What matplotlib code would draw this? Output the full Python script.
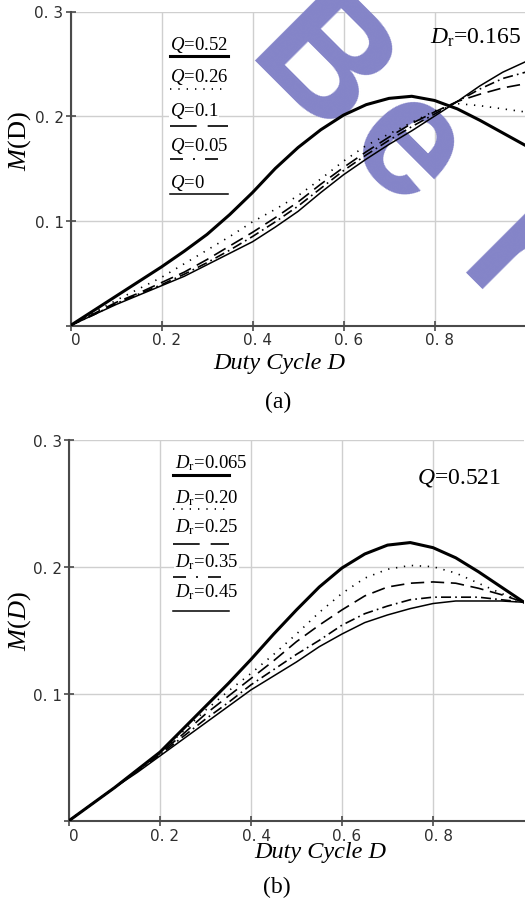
#!/usr/bin/env python3
'''
Voltage gain M(D) vs duty cycle, two panels:
(a) several Q at Dr=0.165, (b) several Dr at Q=0.521
'''

import matplotlib as mplt
mplt.use("Agg")
import matplotlib.pyplot as plt
import matplotlib.transforms as mtransforms

plt.rcParams["mathtext.fontset"] = "custom"
plt.rcParams["mathtext.rm"] = "Liberation Serif"
plt.rcParams["mathtext.it"] = "Liberation Serif:italic"

SERIF = "Liberation Serif"

# ---- data ----
duty = [0.0, 0.05, 0.1, 0.15, 0.2, 0.25, 0.3, 0.35, 0.4, 0.45, 0.5,
        0.55, 0.6, 0.65, 0.7, 0.75, 0.8, 0.85, 0.9, 0.95, 1.0]

# panel (a): Dr = 0.165
m_q052 = [0, .014, .028, .042, .056, .071, .087, .106, .127, .150, .170,
          .187, .201, .211, .217, .219, .215, .207, .196, .184, .172]
m_q026 = [0, .012, .024, .035, .046, .059, .072, .085, .099, .111, .124,
          .140, .157, .172, .183, .194, .205, .212, .210, .207, .204]
m_q01 = [0, .011, .022, .031, .041, .051, .063, .076, .089, .103, .118,
         .135, .151, .166, .180, .193, .204, .214, .221, .227, .231]
m_q005 = [0, .010, .021, .030, .039, .049, .060, .072, .085, .099, .114,
          .131, .148, .163, .177, .190, .202, .214, .226, .236, .242]
m_q0 = [0, .010, .020, .029, .038, .047, .058, .069, .080, .094, .109,
        .127, .144, .159, .173, .186, .200, .214, .229, .242, .252]

labels_a = [r"$Q$=0.52", r"$Q$=0.26", r"$Q$=0.1", r"$Q$=0.05", r"$Q$=0"]

# panel (b): Q = 0.521
m_dr0065 = [0, .013, .026, .040, .054, .072, .090, .108, .127, .147, .166,
            .184, .199, .210, .217, .219, .215, .207, .196, .184, .172]
m_dr020 = [0, .013, .026, .040, .054, .070, .087, .102, .116, .131, .147,
           .164, .179, .191, .198, .201, .200, .195, .187, .179, .172]
m_dr025 = [0, .013, .026, .040, .053, .068, .084, .098, .112, .126, .141,
           .154, .166, .177, .184, .187, .188, .187, .183, .178, .172]
m_dr035 = [0, .013, .026, .039, .052, .066, .080, .093, .107, .119, .131,
           .142, .154, .163, .169, .174, .176, .176, .176, .174, .172]
m_dr045 = [0, .013, .026, .038, .051, .064, .077, .090, .103, .114, .125,
           .137, .147, .156, .162, .167, .171, .173, .173, .173, .172]

labels_b = [r"$D_\mathrm{r}$=0.065", r"$D_\mathrm{r}$=0.20", r"$D_\mathrm{r}$=0.25",
            r"$D_\mathrm{r}$=0.35", r"$D_\mathrm{r}$=0.45"]

xticks = [0, 0.2, 0.4, 0.6, 0.8]
xtick_labels = ["0", "0. 2", "0. 4", "0. 6", "0. 8"]
yticks = [0, 0.1, 0.2, 0.3]
ytick_labels = ["", "0. 1", "0. 2", "0. 3"]

# line styles, same order for both panels
styles = [
    dict(lw=2.2, ls="-"),
    dict(lw=1.2, ls=(0, (0.8, 4.0))),
    dict(lw=1.2, ls=(0, (8, 4))),
    dict(lw=1.2, ls=(0, (6, 2.5, 1, 2.5))),
    dict(lw=1.1, ls="-"),
]
# the short key lines next to the labels use longer dashes
key_styles = [
    dict(lw=2.2, ls="-"),
    dict(lw=1.2, ls=(0, (0.8, 4.2))),
    dict(lw=1.2, ls=(0, (16, 6.6))),
    dict(lw=1.2, ls=(0, (7.8, 6, 1.2, 6))),
    dict(lw=1.1, ls="-"),
]

W, H = 525, 903
fig = plt.figure(figsize=(W / 100, H / 100), dpi=100)


def px_axes(left, bottom, right, top):
    # pixel box (origin top-left) -> figure fraction
    return [left / W, 1 - bottom / H, (right - left) / W, (bottom - top) / H]


def style_axes(ax):
    ax.set_xlim(0, 1)
    ax.set_ylim(0, 0.3)
    ax.set_xticks(xticks)
    ax.set_xticklabels(xtick_labels)
    ax.set_yticks(yticks)
    ax.set_yticklabels(ytick_labels)
    for side in ["top", "right"]:
        ax.spines[side].set_visible(False)
    for side in ["left", "bottom"]:
        ax.spines[side].set_color("#4a4a4a")
        ax.spines[side].set_linewidth(1.5)
    ax.tick_params(direction="inout", length=7, width=1.2, color="#4a4a4a",
                   labelsize=11, labelcolor="#2e2e2e", pad=1.5)
    ax.grid(True, color="#cfcfcf", lw=1.0)
    ax.set_axisbelow(True)
    shift = mtransforms.ScaledTranslation(5 / 100, 0, fig.dpi_scale_trans)
    for lab in ax.get_xticklabels():
        lab.set_transform(lab.get_transform() + shift)
        lab.set_family("DejaVu Sans")
    for lab in ax.get_yticklabels():
        lab.set_family("DejaVu Sans")


def legend_block(ax, labels, x_text, y_text, x_line, y_line):
    for i, lab in enumerate(labels):
        ax.text(x_text, y_text[i], lab, transform=ax.transAxes, family=SERIF,
                fontsize=13.5, ha="left", va="center", zorder=4,
                bbox=dict(fc="white", ec="none", pad=0.5))
        ax.plot(x_line, [y_line[i], y_line[i]], transform=ax.transAxes,
                color="k", zorder=4, clip_on=False, **key_styles[i])


# ---- panel (a) ----
ax_a = fig.add_axes(px_axes(70.5, 326.5, 525.5, 12.5))
style_axes(ax_a)
for m, st in zip([m_q052, m_q026, m_q01, m_q005, m_q0], styles):
    ax_a.plot(duty, m, color="k", zorder=3, **st)

legend_block(ax_a, labels_a, 0.219,
             [0.897, 0.795, 0.686, 0.575, 0.457], [0.219, 0.346],
             [0.858, 0.753, 0.636, 0.530, 0.419])
ax_a.text(0.79, 0.919, r"$D_\mathrm{r}$=0.165", transform=ax_a.transAxes,
          family=SERIF, fontsize=17, ha="left", va="center")

# watermark, letters placed separately
for ch, (x, y) in zip(["B", "e", "r"], [(243, 60), (341, 150), (454, 272)]):
    ax_a.text(x / W, 1 - y / H, ch, transform=fig.transFigure, rotation=-45,
              rotation_mode="anchor", ha="left", va="baseline",
              family="Liberation Sans", fontweight="bold", fontsize=121,
              color="#8484c8", zorder=2, clip_on=False)

fig.text(20 / W, 1 - 141 / H, r"$M$(D)", family=SERIF, fontsize=19,
         rotation=90, ha="center", va="center")
fig.text(279 / W, 1 - 363 / H, "Duty Cycle D", family=SERIF, style="italic",
         fontsize=17.5, ha="center", va="center")
fig.text(278 / W, 1 - 402 / H, "(a)", family=SERIF, fontsize=17,
         ha="center", va="center")

# ---- panel (b) ----
ax_b = fig.add_axes(px_axes(69, 821.7, 524, 440.7))
style_axes(ax_b)
for m, st in zip([m_dr0065, m_dr020, m_dr025, m_dr035, m_dr045], styles):
    ax_b.plot(duty, m, color="k", zorder=3, **st)

legend_block(ax_b, labels_b, 0.233,
             [0.941, 0.849, 0.773, 0.681, 0.602], [0.229, 0.352],
             [0.907, 0.818, 0.726, 0.640, 0.551])
ax_b.text(0.765, 0.902, r"$Q$=0.521", transform=ax_b.transAxes,
          family=SERIF, fontsize=17, ha="left", va="center")

fig.text(20 / W, 1 - 621 / H, r"$M$($D$)", family=SERIF, fontsize=19,
         rotation=90, ha="center", va="center")
fig.text(320 / W, 1 - 853 / H, "Duty Cycle D", family=SERIF, style="italic",
         fontsize=17.5, ha="center", va="center")
fig.text(277 / W, 1 - 887 / H, "(b)", family=SERIF, fontsize=17,
         ha="center", va="center")

fig.savefig("out.png", dpi=100)
plt.close(fig)
